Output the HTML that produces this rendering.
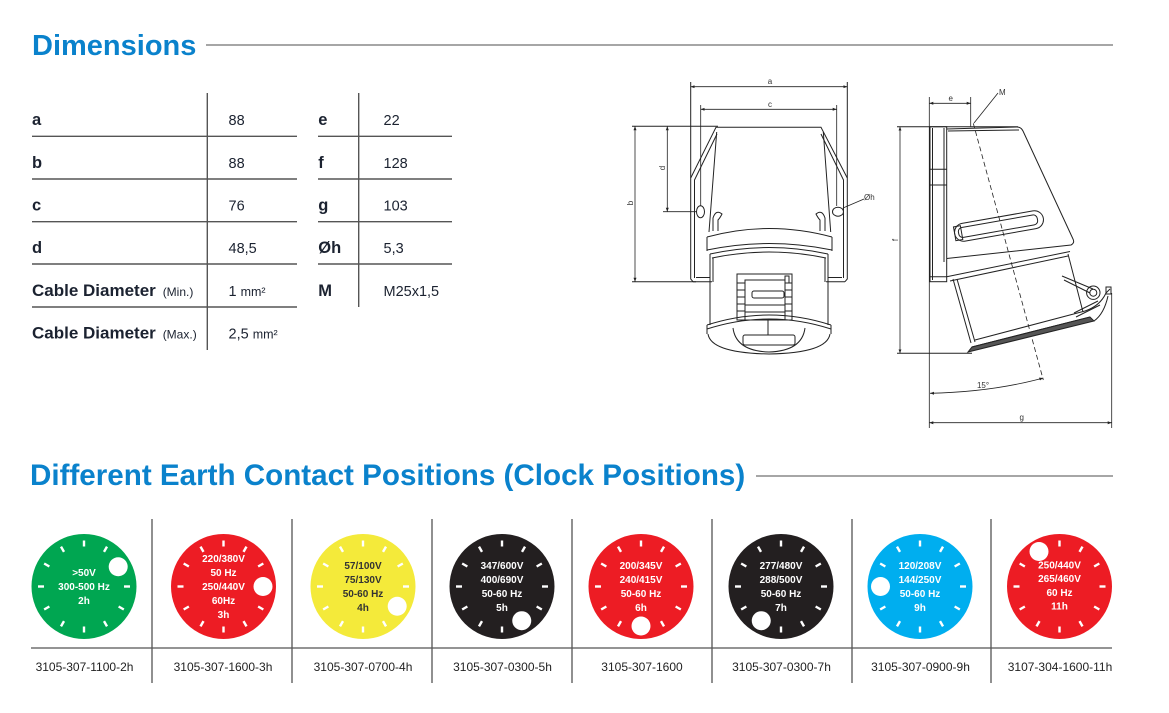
<!DOCTYPE html>
<html><head><meta charset="utf-8"><style>
html,body{margin:0;padding:0;background:#fff;width:1169px;height:713px;overflow:hidden}
svg{position:absolute;left:0;top:0;font-family:"Liberation Sans",Arial,sans-serif}
</style></head><body>
<svg width="1169" height="713" viewBox="0 0 1169 713" xmlns="http://www.w3.org/2000/svg">
<defs>
<marker id="ar" viewBox="0 0 8 6" refX="8" refY="3" markerWidth="5" markerHeight="4" orient="auto-start-reverse"><path d="M0,0 L8,3 L0,6 z" fill="#222"/></marker>
<g id="tk" stroke="#fff" stroke-width="2.4" stroke-linecap="butt">
<line x1="0" y1="-40" x2="0" y2="-46"/><line x1="20" y1="-34.64" x2="23" y2="-39.84"/><line x1="34.64" y1="-20" x2="39.84" y2="-23"/><line x1="40" y1="0" x2="46" y2="0"/><line x1="34.64" y1="20" x2="39.84" y2="23"/><line x1="20" y1="34.64" x2="23" y2="39.84"/><line x1="0" y1="40" x2="0" y2="46"/><line x1="-20" y1="34.64" x2="-23" y2="39.84"/><line x1="-34.64" y1="20" x2="-39.84" y2="23"/><line x1="-40" y1="0" x2="-46" y2="0"/><line x1="-34.64" y1="-20" x2="-39.84" y2="-23"/><line x1="-20" y1="-34.64" x2="-23" y2="-39.84"/>
</g>
</defs>

<!-- Headers -->
<text x="32" y="55" font-size="29" font-weight="bold" fill="#0a82cc">Dimensions</text>
<line x1="206" y1="45" x2="1113" y2="45" stroke="#888" stroke-width="1.5"/>
<text x="30" y="485" font-size="29.6" font-weight="bold" fill="#0a82cc">Different Earth Contact Positions (Clock Positions)</text>
<line x1="756" y1="476" x2="1113" y2="476" stroke="#888" stroke-width="1.5"/>

<!-- Table -->
<g stroke="#555" stroke-width="1.4">
<line x1="207.3" y1="93" x2="207.3" y2="350"/>
<line x1="358.7" y1="93" x2="358.7" y2="307"/>
<line x1="32" y1="136.3" x2="297" y2="136.3"/><line x1="32" y1="179" x2="297" y2="179"/><line x1="32" y1="221.7" x2="297" y2="221.7"/><line x1="32" y1="264" x2="297" y2="264"/><line x1="32" y1="307" x2="297" y2="307"/>
<line x1="318" y1="136.3" x2="452" y2="136.3"/><line x1="318" y1="179" x2="452" y2="179"/><line x1="318" y1="221.7" x2="452" y2="221.7"/><line x1="318" y1="264" x2="452" y2="264"/>
</g>
<g fill="#1b2230" font-size="16.5" font-weight="bold">
<text x="32" y="125">a</text><text x="32" y="168">b</text><text x="32" y="210.5">c</text><text x="32" y="253">d</text>
<text x="32" y="296" font-size="17">Cable Diameter</text>
<text x="32" y="338.5" font-size="17">Cable Diameter</text>
<text x="318.3" y="125">e</text><text x="318.3" y="168">f</text><text x="318.3" y="210.5">g</text><text x="318.3" y="253">Øh</text><text x="318.3" y="296">M</text>
</g>
<g fill="#1b2230" font-size="12">
<text x="162.7" y="296">(Min.)</text><text x="162.7" y="338.5">(Max.)</text>
</g>
<g fill="#1b2230" font-size="14.5">
<text x="228.5" y="125">88</text><text x="228.5" y="168">88</text><text x="228.5" y="210.5">76</text><text x="228.5" y="253">48,5</text>
<text x="228.5" y="296">1 <tspan font-size="12.5">mm²</tspan></text>
<text x="228.5" y="338.5">2,5 <tspan font-size="12.5">mm²</tspan></text>
<text x="383.5" y="125">22</text><text x="383.5" y="168">128</text><text x="383.5" y="210.5">103</text><text x="383.5" y="253">5,3</text><text x="383.5" y="296">M25x1,5</text>
</g>

<!-- Front view drawing -->
<g stroke="#222" stroke-width="1" fill="none">
<line x1="690.7" y1="86.7" x2="847.3" y2="86.7" marker-start="url(#ar)" marker-end="url(#ar)" stroke-width="0.8"/>
<line x1="690.7" y1="82" x2="690.7" y2="178"/><line x1="847.3" y1="82" x2="847.3" y2="178"/>
<line x1="700.7" y1="109.3" x2="836.7" y2="109.3" marker-start="url(#ar)" marker-end="url(#ar)" stroke-width="0.8"/>
<line x1="700.7" y1="105" x2="700.7" y2="206" stroke-width="0.8"/><line x1="836.7" y1="105" x2="836.7" y2="206" stroke-width="0.8"/>
<line x1="635" y1="126.3" x2="635" y2="281.7" marker-start="url(#ar)" marker-end="url(#ar)" stroke-width="0.8"/>
<line x1="632" y1="126.3" x2="718" y2="126.3"/><line x1="632" y1="281.7" x2="696" y2="281.7"/>
<line x1="667.3" y1="126.3" x2="667.3" y2="211.7" marker-start="url(#ar)" marker-end="url(#ar)" stroke-width="0.8"/>
<line x1="663" y1="211.7" x2="697" y2="211.7" stroke-width="0.8"/>
<line x1="843" y1="208" x2="864" y2="199" stroke-width="0.8"/>
<!-- plate -->
<path d="M693,281.7 L690.7,279 L690.7,178 L716,127.3 L821,127.3 L847.3,178 L847.3,279 L845,281.7"/>
<path d="M694.5,278 L694.5,180 L717,134 M843.5,278 L843.5,180 L821,134"/>
<path d="M693,281.7 L712,281.7 M826,281.7 L845,281.7 M696,277.5 L710,277.5 M828,277.5 L842,277.5"/>
<!-- body -->
<path d="M716.7,132 L709,232 M823.3,132 L830.7,232"/>
<path d="M707,237 Q769,220 832,237 M707,237 L707,251 M832,237 L832,251"/>
<path d="M707,250 Q769,237 832,250 M710,254 Q769,241 828,254 M712,258 Q769,246 826,258"/>
<path d="M710,254 L710,325 M828,254 L828,325 M713,258 L713,282 M825,258 L825,282"/>
<path d="M707,325 Q769,305 831,325 M707,329 Q769,309 831,329 M707,325 L707,334 M831,325 L831,334"/>
<path d="M708,334 Q711,353 769,354 Q827,353 830,334"/>
<path d="M733,328 Q736,351 769,352 Q802,351 805,328"/>
<!-- lid -->
<rect x="737" y="274" width="55" height="46"/>
<rect x="745" y="280" width="40" height="40"/>
<rect x="752" y="291" width="32" height="7" rx="2"/>
<path d="M745,305 L785,305 M745,312 L785,312 M737,283 L745,283 M737,290 L745,290 M737,297 L745,297 M737,304 L745,304 M737,311 L745,311 M785,283 L792,283 M785,290 L792,290 M785,297 L792,297 M785,304 L792,304 M785,311 L792,311"/>
<rect x="785" y="276" width="4" height="7"/>
<rect x="743" y="335" width="52" height="10" rx="2"/>
<line x1="768" y1="320" x2="768" y2="335"/>
<!-- holes & clips -->
<ellipse cx="700.5" cy="211.7" rx="4" ry="6"/>
<ellipse cx="838" cy="211.7" rx="5.5" ry="4.5"/>
<path d="M713,231 L713,218 Q716,209 722,214 Q720,218 718,220 L718,231"/>
<path d="M825,231 L825,218 Q822,209 816,214 Q818,218 820,220 L820,231"/>
</g>
<g fill="#333" font-size="8">
<text x="770" y="84" text-anchor="middle">a</text>
<text x="770" y="107" text-anchor="middle">c</text>
<text x="864" y="200">Øh</text>
<text transform="translate(633,203) rotate(-90)" text-anchor="middle">b</text>
<text transform="translate(665,168) rotate(-90)" text-anchor="middle">d</text>
</g>

<!-- Side view drawing -->
<g stroke="#222" stroke-width="1" fill="none">
<line x1="929.3" y1="103.3" x2="970.7" y2="103.3" marker-start="url(#ar)" marker-end="url(#ar)" stroke-width="0.8"/>
<line x1="970.7" y1="97" x2="970.7" y2="127" stroke-width="0.8"/>
<line x1="929.3" y1="97" x2="929.3" y2="428" stroke-width="0.8"/>
<line x1="998" y1="93" x2="974" y2="123" stroke-width="0.8"/>
<line x1="900" y1="126.7" x2="900" y2="353.3" marker-start="url(#ar)" marker-end="url(#ar)" stroke-width="0.8"/>
<line x1="897" y1="126.7" x2="1018" y2="126.7"/>
<line x1="897" y1="353.3" x2="972" y2="353.3"/>
<line x1="929.3" y1="422.7" x2="1111.7" y2="422.7" marker-start="url(#ar)" marker-end="url(#ar)" stroke-width="0.8"/>
<line x1="1111.7" y1="293" x2="1111.7" y2="428" stroke-width="0.8"/>
<path d="M930,393.3 Q992,392 1043.3,378" marker-start="url(#ar)" marker-end="url(#ar)" stroke-width="0.8"/>
<line x1="973.3" y1="123.3" x2="1043.3" y2="380" stroke-dasharray="5,3" stroke-width="0.8"/>
<!-- plate -->
<rect x="930" y="126.7" width="16.7" height="155"/>
<path d="M932.5,128 L932.5,280 M944,128 L944,262 M930,169.3 L946.7,169.3 M930,185 L946.7,185 M930,276.7 L946.7,276.7"/>
<!-- upper body -->
<path d="M946.7,129 L1017,127 Q1021,127 1023,131 L1073,239 Q1075,243 1071,245 L946.7,258.5"/>
<path d="M948,131 L1019,130"/>
<g transform="rotate(-10 999 226)">
<rect x="954" y="217" width="90" height="18" rx="9"/>
<rect x="958" y="221" width="80" height="10" rx="4"/>
<rect x="954" y="219" width="7" height="14"/>
</g>
<!-- lower body -->
<path d="M946.7,276.7 L1070,251.5 M950,281 L1068,256"/>
<path d="M953,279 L971,343 M957,279 L975,342 M1068,254 L1083,312"/>
<path d="M972,347 L1090,317 M975,340 L1085,311"/>
<path d="M968,352 L1094,321 L1090,317 L972,347 Z" fill="#555"/>
<path d="M1085,311 Q1100,306 1106,293 L1110,289 M1094,321 Q1104,314 1108,296"/>
<path d="M1062,276 L1093,289 M1064,280 L1090,293 M1074,313 L1098,301 M1076,317 L1100,305"/>
<circle cx="1093.3" cy="292.7" r="6.7"/>
<circle cx="1093.3" cy="292.7" r="3.5"/>
<rect x="1106" y="287" width="5" height="7"/>
</g>
<g fill="#333" font-size="8">
<text x="950.7" y="101" text-anchor="middle">e</text>
<text x="999" y="95">M</text>
<text x="1021.7" y="420" text-anchor="middle">g</text>
<text x="983" y="388" text-anchor="middle">15°</text>
<text transform="translate(898,240) rotate(-90)" text-anchor="middle">f</text>
</g>

<!-- Clock section grid -->
<g stroke="#555" stroke-width="1.3">
<line x1="31" y1="648" x2="1112" y2="648"/>
<line x1="152" y1="519" x2="152" y2="683"/><line x1="292" y1="519" x2="292" y2="683"/><line x1="432" y1="519" x2="432" y2="683"/><line x1="572" y1="519" x2="572" y2="683"/><line x1="712" y1="519" x2="712" y2="683"/><line x1="852" y1="519" x2="852" y2="683"/><line x1="991" y1="519" x2="991" y2="683"/>
</g>

<!-- Dials -->
<g font-size="10" font-weight="bold" text-anchor="middle">
<g transform="translate(84,586.5)">
<circle r="52.5" fill="#00a651"/><use href="#tk"/><circle cx="34.2" cy="-19.75" r="9.5" fill="#fff"/>
<g fill="#fff"><text y="-10.4">&gt;50V</text><text y="3.6">300-500 Hz</text><text y="17.6">2h</text></g>
</g>
<g transform="translate(223.5,586.5)">
<circle r="52.5" fill="#ed1c24"/><use href="#tk"/><circle cx="39.5" cy="0" r="9.5" fill="#fff"/>
<g fill="#fff"><text y="-24.4">220/380V</text><text y="-10.4">50 Hz</text><text y="3.6">250/440V</text><text y="17.6">60Hz</text><text y="31.6">3h</text></g>
</g>
<g transform="translate(363,586.5)">
<circle r="52.5" fill="#f4ea3a"/><use href="#tk"/><circle cx="34.2" cy="19.75" r="9.5" fill="#fff"/>
<g fill="#333"><text y="-17.4">57/100V</text><text y="-3.4">75/130V</text><text y="10.6">50-60 Hz</text><text y="24.6">4h</text></g>
</g>
<g transform="translate(502,586.5)">
<circle r="52.5" fill="#231f20"/><use href="#tk"/><circle cx="19.75" cy="34.2" r="9.5" fill="#fff"/>
<g fill="#fff"><text y="-17.4">347/600V</text><text y="-3.4">400/690V</text><text y="10.6">50-60 Hz</text><text y="24.6">5h</text></g>
</g>
<g transform="translate(641,586.5)">
<circle r="52.5" fill="#ed1c24"/><use href="#tk"/><circle cx="0" cy="39.5" r="9.5" fill="#fff"/>
<g fill="#fff"><text y="-17.4">200/345V</text><text y="-3.4">240/415V</text><text y="10.6">50-60 Hz</text><text y="24.6">6h</text></g>
</g>
<g transform="translate(781,586.5)">
<circle r="52.5" fill="#231f20"/><use href="#tk"/><circle cx="-19.75" cy="34.2" r="9.5" fill="#fff"/>
<g fill="#fff"><text y="-17.4">277/480V</text><text y="-3.4">288/500V</text><text y="10.6">50-60 Hz</text><text y="24.6">7h</text></g>
</g>
<g transform="translate(920,586.5)">
<circle r="52.5" fill="#00aeef"/><use href="#tk"/><circle cx="-39.5" cy="0" r="9.5" fill="#fff"/>
<g fill="#fff"><text y="-17.4">120/208V</text><text y="-3.4">144/250V</text><text y="10.6">50-60 Hz</text><text y="24.6">9h</text></g>
</g>
<g transform="translate(1059.5,586.5)">
<circle r="52.5" fill="#ed1c24"/><use href="#tk"/><circle cx="-20.5" cy="-35" r="9.5" fill="#fff"/>
<g fill="#fff"><text y="-18">250/440V</text><text y="-4.5">265/460V</text><text y="9.5">60 Hz</text><text y="23">11h</text></g>
</g>
</g>

<!-- Part numbers -->
<g fill="#222" font-size="12" text-anchor="middle">
<text x="84.5" y="671">3105-307-1100-2h</text>
<text x="223" y="671">3105-307-1600-3h</text>
<text x="363" y="671">3105-307-0700-4h</text>
<text x="502.5" y="671">3105-307-0300-5h</text>
<text x="642" y="671">3105-307-1600</text>
<text x="781.5" y="671">3105-307-0300-7h</text>
<text x="920.5" y="671">3105-307-0900-9h</text>
<text x="1060" y="671">3107-304-1600-11h</text>
</g>
</svg>
</body></html>
